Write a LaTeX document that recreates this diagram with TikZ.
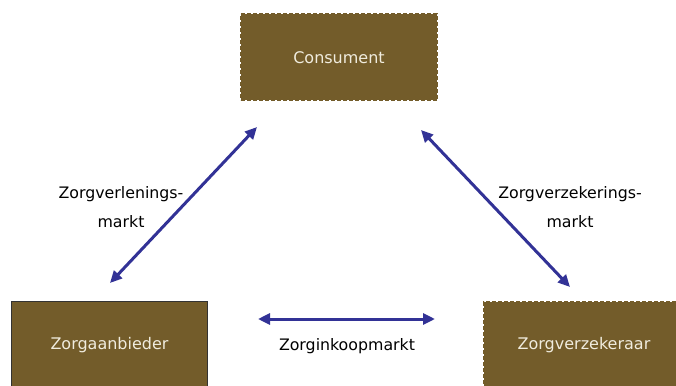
\documentclass[tikz,border=0pt]{standalone}
\usepackage{fontspec}
\setmainfont{DejaVu Sans}
\usetikzlibrary{arrows.meta}
\definecolor{boxbrown}{RGB}{115,92,42}
\definecolor{boxtext}{RGB}{240,236,222}
\definecolor{arrowblue}{RGB}{50,50,150}
\tikzset{
  boxstyle/.style={fill=boxbrown, text=boxtext, minimum width=196pt, minimum height=86pt, inner sep=0pt, font=\fontsize{16}{19}\selectfont},
  dashedbox/.style={boxstyle, draw=boxbrown, line width=2pt, dash pattern=on 4pt off 2pt},
  solidbox/.style={boxstyle, draw=black!80, line width=1pt},
  marketarrow/.style={draw=arrowblue, line width=3pt, {Triangle[length=12pt,width=11pt]}-{Triangle[length=12pt,width=11pt]}},
  lbl/.style={font=\fontsize{15.8}{29}\selectfont, align=center, text=black}
}
\begin{document}
\begin{tikzpicture}[x=1pt,y=-1pt]
\useasboundingbox[fill=white] (0,0) rectangle (676,385);
\node[dashedbox] (cons) at (339,57.5) {\raisebox{-2pt}{Consument}};
\node[solidbox, minimum height=88pt] (aanb) at (109.5,345) {Zorgaanbieder};
\node[dashedbox, minimum height=86pt, minimum width=200pt] (verz) at (584,345) {Zorgverzekeraar};
\coordinate (l1) at (257,127);
\coordinate (l2) at (110,283);
\coordinate (r1) at (421,130);
\coordinate (r2) at (570,287);
\coordinate (h1) at (258,319);
\coordinate (h2) at (435,319);
\draw[marketarrow] (l2) -- (l1);
\draw[marketarrow] (r1) -- (r2);
\draw[marketarrow] (h1) -- (h2);
\node[lbl] (lblL) at (121,207.5) {Zorgverlenings-\\markt};
\node[lbl] (lblR) at (570,207.5) {Zorgverzekerings-\\markt};
\node[lbl] (lblH) at (347,346) {Zorginkoopmarkt};
\end{tikzpicture}
\end{document}
